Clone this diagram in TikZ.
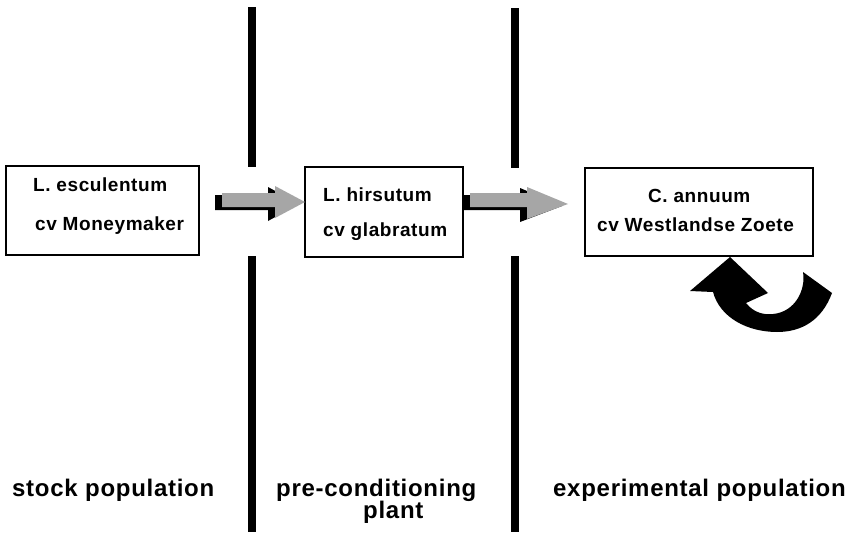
\documentclass[tikz,border=0pt]{standalone}
\usepackage{fontspec}
\setmainfont{Liberation Sans}
\newfontfamily\boxfont[LetterSpace=3]{Liberation Sans}
\newfontfamily\labfont[LetterSpace=3]{Liberation Sans}
\tikzset{
  bar/.style={fill=black},
  plantbox/.style={draw, line width=1.2pt, inner sep=0pt, fill=white},
  boxtxt/.style={font=\boxfont\bfseries\fontsize{19}{21}\selectfont, anchor=base west, inner sep=0pt},
  labtxt/.style={font=\labfont\bfseries\fontsize{24}{28}\selectfont, anchor=base west, inner sep=0pt},
  arrowbody/.style={fill=black!35},
  arrowshadow/.style={fill=black}
}
\begin{document}
\begin{tikzpicture}[x=1pt,y=-1pt]
\useasboundingbox (0,0) rectangle (858,532);
% vertical separators
\fill[bar] (248,7) rectangle (256,167);
\fill[bar] (248,256) rectangle (256,532);
\fill[bar] (511,8) rectangle (519,168);
\fill[bar] (511,256) rectangle (519,532);
% boxes
\node[plantbox, minimum width=193pt, minimum height=89pt] (b1) at (102.5,210.5) {};
\node[plantbox, minimum width=158pt, minimum height=90pt] (b2) at (384,212) {};
\node[plantbox, minimum width=228pt, minimum height=88pt] (b3) at (699,212) {};
% box texts
\node[boxtxt] (t1a) at (33,191) {L. esculentum};
\node[boxtxt] (t1b) at (35,230) {cv Moneymaker};
\node[boxtxt] (t2a) at (323,201) {L. hirsutum};
\node[boxtxt] (t2b) at (323,236) {cv glabratum};
\node[boxtxt] (t3a) at (648,202) {C. annuum};
\node[boxtxt] (t3b) at (597,231) {cv Westlandse Zoete};
% block arrow 1
\fill[arrowshadow] (215,195) -- (268,195) -- (268,187) -- (299,204) -- (268,221) -- (268,210) -- (215,210) -- cycle;
\fill[arrowbody] (222,193) -- (275,193) -- (275,186) -- (305,202) -- (275,218) -- (275,207) -- (222,207) -- cycle;
% block arrow 2
\fill[arrowshadow] (463,195) -- (520,195) -- (520,188) -- (562,206) -- (520,222) -- (520,210) -- (463,210) -- cycle;
\fill[arrowbody] (470,193) -- (527,193) -- (527,187) -- (568,204) -- (527,219) -- (527,207) -- (470,207) -- cycle;
% curved return arrow
\fill[black] (832,293) .. controls (822,320) and (802,332) .. (777,332)
  .. controls (748,332) and (720,318) .. (713,292)
  -- (690,291) -- (730,257) -- (768,293) -- (746,303)
  .. controls (754,313) and (764,315) .. (773,314)
  .. controls (795,312) and (806,290) .. (803,272) -- cycle;
% bottom labels
\node[labtxt] (l1) at (12,496) {stock population};
\node[labtxt] (l2) at (276,496) {pre-conditioning};
\node[labtxt] (l3) at (363,518) {plant};
\node[labtxt] (l4) at (553,496) {experimental population};
\end{tikzpicture}
\end{document}
